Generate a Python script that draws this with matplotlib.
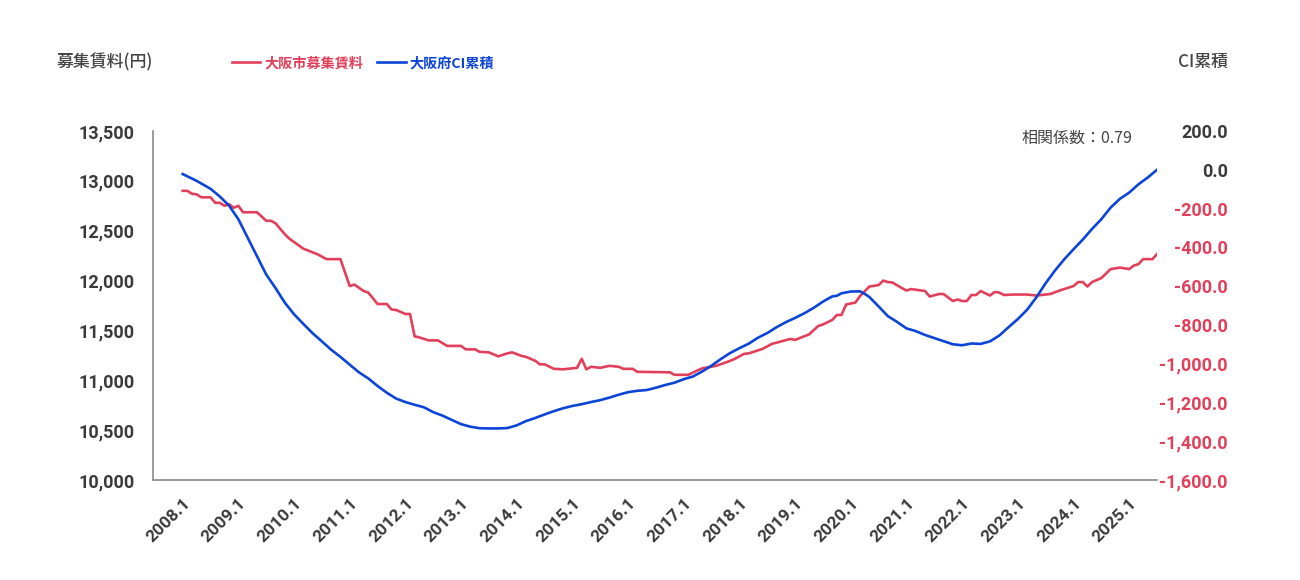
import matplotlib
matplotlib.use("Agg")
from matplotlib import pyplot as plt
import numpy as np

# months counted from 2008.1 (0 = Jan 2008)
rent_month = [0, 1, 2, 3, 4, 6, 7, 8, 9, 10, 11, 12, 13, 16, 18, 19, 20, 22, 23, 26,
              29, 31, 34, 36, 37, 39, 40, 42, 44, 45, 46, 48, 49, 50, 51, 53, 55, 57, 60, 61,
              63, 64, 66, 68, 70, 71, 73, 74, 76, 77, 78, 80, 82, 85, 86, 87, 88, 90, 92, 94,
              95, 97, 98, 105, 106, 109, 111, 112, 115, 118, 119, 121, 122, 125, 127, 129, 131, 132, 135, 137,
              138, 140, 141, 142, 143, 145, 146, 148, 150, 151, 152, 153, 155, 156, 157, 160, 161, 163, 164, 166,
              167, 168, 169, 170, 171, 172, 174, 175, 176, 177, 179, 182, 184, 187, 189, 192, 193, 194, 195, 196,
              198, 200, 202, 204, 205, 206, 207, 209, 210]
rent_value = [12900, 12900, 12870, 12865, 12835, 12835, 12780, 12780, 12750, 12765, 12730, 12750, 12685, 12685, 12600, 12600, 12575, 12465, 12420, 12320,
              12265, 12215, 12215, 11945, 11960, 11895, 11880, 11765, 11765, 11710, 11705, 11665, 11665, 11440, 11430, 11400, 11400, 11345, 11345, 11310,
              11310, 11285, 11280, 11240, 11270, 11280, 11245, 11235, 11195, 11160, 11160, 11115, 11110, 11125, 11215, 11110, 11135, 11125, 11145, 11135,
              11115, 11115, 11085, 11080, 11055, 11055, 11100, 11120, 11145, 11195, 11215, 11265, 11270, 11315, 11365, 11390, 11415, 11405, 11460, 11545,
              11560, 11605, 11655, 11655, 11760, 11780, 11845, 11940, 11955, 12000, 11985, 11980, 11925, 11900, 11915, 11895, 11840, 11865, 11865, 11795,
              11810, 11795, 11795, 11855, 11855, 11895, 11850, 11885, 11880, 11855, 11860, 11860, 11850, 11865, 11900, 11945, 11985, 11985, 11940, 11985,
              12025, 12115, 12130, 12115, 12150, 12165, 12215, 12215, 12265]

ci_month = [0, 3, 6, 8, 10, 12, 14, 16, 18, 20, 22, 24, 26, 28, 30, 32, 34, 36, 38, 40,
            42, 44, 46, 48, 50, 52, 54, 56, 58, 60, 62, 64, 66, 68, 70, 72, 74, 76, 78, 80,
            82, 84, 86, 88, 90, 92, 94, 96, 98, 100, 102, 104, 106, 108, 110, 112, 114, 116, 118, 120,
            122, 124, 126, 128, 130, 132, 134, 136, 138, 140, 141, 142, 144, 146, 147, 148, 150, 152, 154, 156,
            158, 160, 162, 164, 166, 168, 170, 172, 174, 176, 178, 180, 182, 184, 186, 188, 190, 192, 194, 196,
            198, 200, 202, 204, 206, 208, 210]
ci_value = [-22, -57, -98, -138, -185, -255, -350, -445, -540, -610, -685, -745, -795, -843, -885, -928, -965, -1005, -1045, -1076,
            -1115, -1150, -1180, -1198, -1212, -1225, -1250, -1268, -1290, -1312, -1325, -1333, -1334, -1334, -1332, -1318, -1296, -1280, -1262, -1245,
            -1230, -1218, -1209, -1198, -1188, -1175, -1160, -1147, -1140, -1136, -1124, -1110, -1098, -1080, -1066, -1040, -1010, -976, -945, -920,
            -897, -866, -842, -812, -786, -764, -740, -712, -680, -653, -650, -637, -628, -627, -640, -656, -705, -755, -785, -818,
            -832, -852, -868, -884, -900, -905, -896, -898, -885, -855, -812, -770, -722, -658, -585, -520, -462, -410, -360, -305,
            -255, -195, -150, -118, -75, -40, 0]

years = list(range(2008, 2026))
year_labels = [f"{y}.1" for y in years]

RED = "#E2405A"
BLUE = "#0B45D8"
DARK = "#3a3a3a"
num_font = ["Roboto", "DejaVu Sans"]
jp_font = ["Noto Sans CJK JP", "DejaVu Sans"]
plt.rcParams["font.family"] = jp_font

fig = plt.figure(figsize=(13, 5.8), dpi=100)
ax = fig.add_axes([153 / 1300, 1 - 480 / 580, (1157 - 153) / 1300, (480 - 131) / 580])
ax2 = ax.twinx()

l1, = ax.plot(rent_month, rent_value, color=RED, lw=1.9, label="大阪市募集賃料", zorder=3)
l2, = ax2.plot(ci_month, ci_value, color=BLUE, lw=1.9, label="大阪府CI累積", zorder=3)

ax.set_xlim(-6.4, 210)
ax.set_ylim(10000, 13500)
ax2.set_ylim(-1600, 200)

ax.set_yticks(np.arange(10000, 13501, 500))
ax.set_yticklabels([f"{v:,}" for v in range(10000, 13501, 500)],
                   fontfamily=num_font, fontweight="bold", fontsize=13, color=DARK)
ax.tick_params(axis="y", length=0, pad=13)

rt = np.arange(-1600, 201, 200)
ax2.set_yticks(rt)
ax2.set_yticklabels([f"{v:,.1f}" for v in rt], fontfamily=num_font, fontweight="bold", fontsize=13)
for lab, v in zip(ax2.get_yticklabels(), rt):
    lab.set_color(DARK if v >= 0 else RED)
    lab.set_horizontalalignment("right")
ax2.tick_params(axis="y", length=0, pad=51)

ax.set_xticks([12 * i for i in range(len(years))])
ax.set_xticklabels(year_labels, rotation=45, ha="right", va="top", rotation_mode="anchor",
                   fontfamily=num_font, fontweight="bold", fontsize=12.5, color=DARK)
ax.tick_params(axis="x", length=0, pad=11)

for a in (ax, ax2):
    a.spines["top"].set_visible(False)
    a.spines["right"].set_visible(False)
ax2.spines["left"].set_visible(False)
ax2.spines["bottom"].set_visible(False)
ax.spines["left"].set_color("#8a8a8a")
ax.spines["bottom"].set_color("#8a8a8a")
ax.spines["left"].set_linewidth(1.2)
ax.spines["bottom"].set_linewidth(1.2)

fig.text(57 / 1300, 1 - 62 / 580, "募集賃料(円)", fontsize=12.2, color="#444444", va="center", ha="left",
         fontweight="medium")
fig.text(1228 / 1300, 1 - 62 / 580, "CI累積", fontsize=12.2, color="#444444", va="center", ha="right",
         fontweight="medium")
fig.text(1022 / 1300, 1 - 138 / 580, "相関係数：0.79", fontsize=11.5, color="#444444", va="center", ha="left")

leg = fig.legend(handles=[l1, l2], loc="center left", bbox_to_anchor=(219 / 1300, 1 - 63 / 580),
                 ncol=2, frameon=False, handlelength=2.0, handletextpad=0.3, columnspacing=1.0,
                 prop={"size": 10.2, "weight": "bold"})
for txt, col in zip(leg.get_texts(), [RED, BLUE]):
    txt.set_color(col)

fig.savefig("out.png", dpi=100)
